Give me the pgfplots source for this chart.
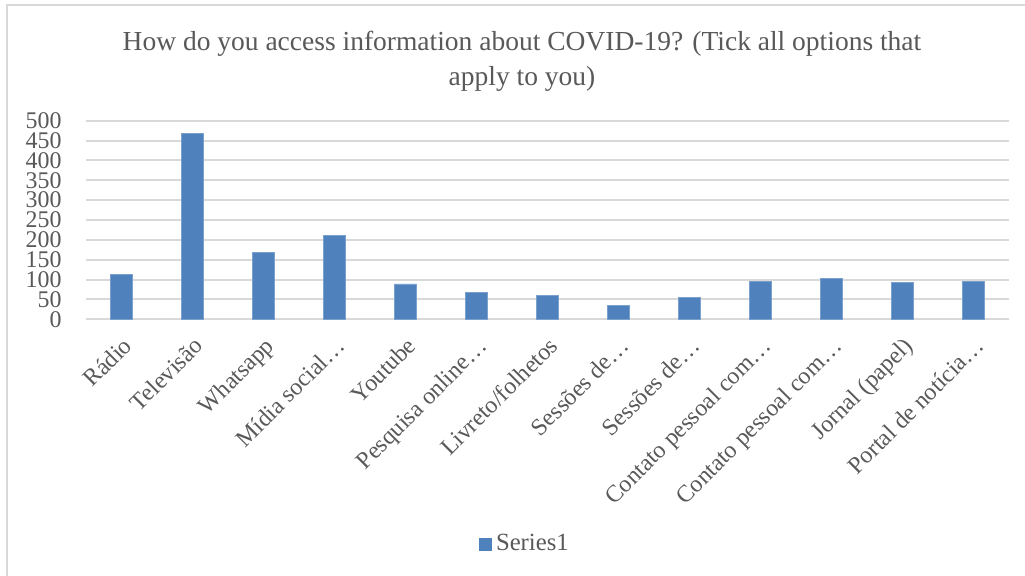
\documentclass[border=0pt]{standalone}
\usepackage{fontspec}
\setmainfont{Liberation Serif}
\usepackage{pgfplots}
\pgfplotsset{compat=1.18}
\definecolor{barblue}{HTML}{4F81BD}
\definecolor{txtgray}{HTML}{595959}
\definecolor{gridgray}{HTML}{D9D9D9}
\begin{document}
\begin{tikzpicture}[x=0.5bp,y=0.5bp]
\useasboundingbox (0,0) rectangle (1025,576);
\fill[white] (0,0) rectangle (1025,576);
% chart frame (left and top edges)
\draw[gridgray, line width=1bp] (7,0) -- (7,571) -- (1030,571);
% title
\node[anchor=base, text=txtgray, inner sep=0pt, font=\fontsize{13.8}{15}\selectfont] at (522,525)
  {How do you access information about COVID-19? (Tick all options that};
\node[anchor=base, text=txtgray, inner sep=0pt, font=\fontsize{13.8}{15}\selectfont] at (522,490)
  {apply to you)};
\begin{axis}[
  at={(43bp,128.35bp)}, anchor=south west,
  width=461.5bp, height=99.3bp, scale only axis,
  xmin=-0.5, xmax=12.5, ymin=0, ymax=500,
  ytick={0,50,...,500},
  xtick={0,...,12},
  xticklabels={Rádio,Televisão,Whatsapp,Mídia social…,Youtube,Pesquisa online…,Livreto/folhetos,Sessões de…,Sessões de…,Contato pessoal com…,Contato pessoal com…,Jornal (papel),Portal de notícia…},
  axis line style={draw=none},
  major tick length=0pt,
  ymajorgrids, grid style={gridgray, line width=1bp},
  tick label style={text=txtgray, font=\fontsize{12}{12}\selectfont},
  /pgf/number format/assume math mode=true,
  yticklabel style={anchor=east, inner sep=0pt, xshift=-12bp},
  xticklabel style={xshift=6bp, yshift=-14bp, rotate=45, anchor=base east, inner sep=0pt},
  ybar, bar width=11bp,
  legend style={at={(0.4767,-1.131)}, anchor=center, draw=none, fill=none,
    font=\fontsize{12.4}{12}\selectfont, text=txtgray},
  legend image code/.code={\fill[barblue] (0bp,-3bp) rectangle (6bp,3bp);},
]
\addplot[fill=barblue, draw=barblue!75!white, line width=0.4bp] coordinates {
  (0,113) (1,467) (2,168) (3,211) (4,89) (5,68) (6,59)
  (7,35) (8,54) (9,96) (10,103) (11,92) (12,96)
};
\addlegendentry{Series1}
\end{axis}
\end{tikzpicture}
\end{document}
